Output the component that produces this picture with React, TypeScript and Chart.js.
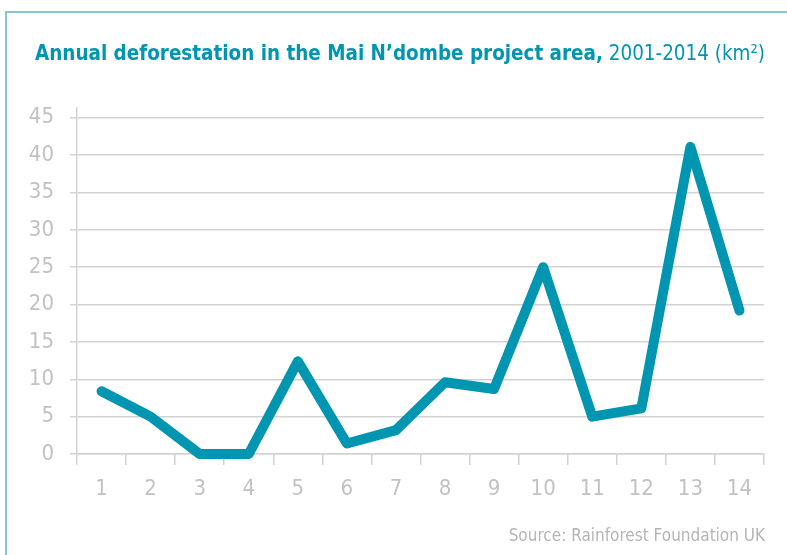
import React, { useEffect, useRef } from "react";
import { Chart, registerables } from "chart.js";

Chart.register(...registerables);

const categories = ["1", "2", "3", "4", "5", "6", "7", "8", "9", "10", "11", "12", "13", "14"];
const deforestation = [8.4, 5.0, 0, 0, 12.4, 1.4, 3.2, 9.6, 8.7, 25.0, 5.0, 6.1, 41.1, 19.2];
const yTickValues = [0, 5, 10, 15, 20, 25, 30, 35, 40, 45];

const titleBold = "Annual deforestation in the Mai N\u2019dombe project area,";
const titleLight = " 2001-2014 (km\u00B2)";
const sourceText = "Source: Rainforest Foundation UK";

const TEAL = "#0096b1";
const BORDER_TEAL = "#86c5d2";
const GRID = "#d2d2d2";
const TICK_TXT = "#c2c2c2";
const FONT = "'Liberation Sans Narrow', 'DejaVu Sans Condensed', sans-serif";

const decorPlugin = {
  id: "decor",
  beforeDraw(chart: any) {
    const ctx = chart.ctx;
    ctx.save();
    ctx.fillStyle = "#ffffff";
    ctx.fillRect(0, 0, chart.width, chart.height);
    ctx.strokeStyle = BORDER_TEAL;
    ctx.lineWidth = 2;
    ctx.beginPath();
    ctx.moveTo(6, chart.height + 5);
    ctx.lineTo(6, 12);
    ctx.lineTo(chart.width + 5, 12);
    ctx.stroke();
    ctx.restore();
  },
  afterDraw(chart: any) {
    const ctx = chart.ctx;
    ctx.save();
    const size = 22;
    ctx.textBaseline = "alphabetic";
    ctx.textAlign = "left";
    ctx.font = `bold ${size}px ${FONT}`;
    const wBold = ctx.measureText(titleBold).width;
    ctx.font = `${size}px ${FONT}`;
    const wLight = ctx.measureText(titleLight).width;
    const targetW = 730;
    const sx = targetW / (wBold + wLight);
    ctx.translate(35, 60);
    ctx.scale(sx, 1);
    ctx.fillStyle = TEAL;
    ctx.font = `bold ${size}px ${FONT}`;
    ctx.fillText(titleBold, 0, 0);
    ctx.font = `${size}px ${FONT}`;
    ctx.fillText(titleLight, wBold, 0);
    ctx.restore();

    ctx.save();
    ctx.font = `17px ${FONT}`;
    ctx.fillStyle = "#b5b5b5";
    ctx.textAlign = "right";
    ctx.textBaseline = "alphabetic";
    ctx.fillText(sourceText, 765, 541);
    ctx.restore();
  },
};

export default function App() {
  const ref = useRef<HTMLCanvasElement | null>(null);

  useEffect(() => {
    if (!ref.current) return;
    const chart = new Chart(ref.current, {
      type: "line",
      data: {
        labels: categories,
        datasets: [
          {
            data: deforestation,
            borderColor: TEAL,
            borderWidth: 10,
            borderCapStyle: "round",
            borderJoinStyle: "round",
            pointRadius: 0,
            pointHoverRadius: 0,
            tension: 0,
            fill: false,
            clip: false as any,
          },
        ],
      },
      options: {
        responsive: false,
        animation: false,
        events: [],
        layout: { padding: { left: 0, right: 23, top: 108, bottom: 0 } },
        plugins: {
          legend: { display: false },
          tooltip: { enabled: false },
          title: { display: false },
        },
        scales: {
          x: {
            type: "category",
            offset: true,
            grid: {
              offset: true,
              drawOnChartArea: false,
              drawTicks: true,
              tickLength: 11,
              color: GRID,
              lineWidth: 1.5,
            },
            border: { display: true, color: GRID, width: 1.5 },
            ticks: {
              color: TICK_TXT,
              font: { family: FONT, size: 22 },
              padding: 11,
              maxRotation: 0,
              autoSkip: false,
            },
            afterFit(scale: any) {
              scale.height = 101;
            },
          },
          y: {
            type: "linear",
            min: 0,
            max: 46.3,
            afterBuildTicks(scale: any) {
              scale.ticks = yTickValues.map((v) => ({ value: v }));
            },
            grid: {
              drawOnChartArea: true,
              drawTicks: true,
              tickLength: 7,
              color: GRID,
              lineWidth: 1.5,
            },
            border: { display: true, color: GRID, width: 1.5 },
            ticks: {
              color: TICK_TXT,
              font: { family: FONT, size: 22 },
              padding: 16,
            },
            afterFit(scale: any) {
              scale.width = 77;
            },
          },
        },
      },
      plugins: [decorPlugin],
    });
    return () => chart.destroy();
  }, []);

  return (
    <div style={{ position: "fixed", left: 0, top: 0, width: 787, height: 555, background: "#fff" }}>
      <canvas ref={ref} width={787} height={555} style={{ display: "block" }} />
    </div>
  );
}
